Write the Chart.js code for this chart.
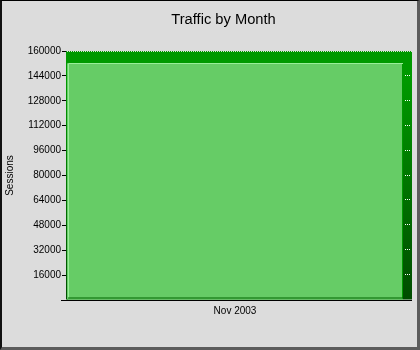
<!DOCTYPE html>
<html>
<head>
<meta charset="utf-8">
<title>Traffic by Month</title>
<script src="https://cdn.jsdelivr.net/npm/chart.js@4"></script>
<style>
  html, body { margin: 0; padding: 0; background: #dcdcdc; }
  #wrap { position: relative; width: 420px; height: 350px; background: #dcdcdc; }
  #trafficChart { position: absolute; left: 0; top: 0; }
  #frame {
    position: absolute; left: 0; top: 0; width: 420px; height: 350px;
    box-sizing: border-box; pointer-events: none;
    border-top: 1px solid #000; border-left: 2px solid #111;
    border-right: 3px solid #5c5c5c; border-bottom: 3px solid #5c5c5c;
  }
</style>
</head>
<body>
<div id="wrap">
  <canvas id="trafficChart" width="420" height="350"></canvas>
  <div id="frame"></div>
</div>
<script>
// === Data ===
const months = ["Nov 2003"];
const sessions = [152000];
const yMax = 160000;
const yStep = 16000;

// === Colours ===
const faceColor = "#66cc66";
const lightEdge = "#99ee99";
const backTop = "#009900";
const backBottom = "#004c00";

// === Title sits a bit right of the canvas centre ===
const titleShift = {
  id: "titleShift",
  afterLayout(chart) {
    const t = chart.titleBlock;
    if (!t) return;
    t.left = 44;
    t.width = t.right - t.left;
  }
};

// === 3D look: back block, side dots and face edges ===
const depthPlugin = {
  id: "depth",
  beforeDatasetsDraw(chart) {
    const bar = chart.getDatasetMeta(0).data[0];
    if (!bar) return;
    const { x, y, base, width } = bar.getProps(["x", "y", "base", "width"], true);
    const left = x - width / 2;
    const right = x + width / 2;
    const dx = 9, dy = 12.5;
    const c = chart.ctx;
    c.save();
    const grad = c.createLinearGradient(0, y - dy, 0, base);
    grad.addColorStop(0, backTop);
    grad.addColorStop(0.12, backTop);
    grad.addColorStop(1, backBottom);
    c.fillStyle = grad;
    c.fillRect(left - 1, y - dy, width + dx + 1, base - (y - dy));

    // dotted top edge
    c.strokeStyle = "#dcdcdc";
    c.lineWidth = 1;
    c.setLineDash([1, 1]);
    c.beginPath();
    c.moveTo(left, Math.round(y - dy) + 0.5);
    c.lineTo(right + dx, Math.round(y - dy) + 0.5);
    c.stroke();

    // grid dots on the side face
    c.strokeStyle = "#ffffff";
    const yScale = chart.scales.y;
    yScale.ticks.forEach(t => {
      if (t.value <= 0 || t.value >= yMax) return;
      const py = Math.round(yScale.getPixelForValue(t.value)) - 0.5;
      c.beginPath();
      c.moveTo(right + 2, py);
      c.lineTo(right + dx - 1, py);
      c.stroke();
    });
    c.restore();
  },
  afterDatasetsDraw(chart) {
    const bar = chart.getDatasetMeta(0).data[0];
    if (!bar) return;
    const { x, y, base, width } = bar.getProps(["x", "y", "base", "width"], true);
    const left = x - width / 2;
    const right = x + width / 2;
    const dx = 9;
    const c = chart.ctx;
    c.save();
    c.lineWidth = 1;
    // light top and left edges
    c.strokeStyle = lightEdge;
    c.beginPath();
    c.moveTo(left + 1.5, base - 1);
    c.lineTo(left + 1.5, Math.round(y) + 0.5);
    c.lineTo(right, Math.round(y) + 0.5);
    c.stroke();
    // darker right and bottom edges
    c.strokeStyle = "#009900";
    c.beginPath();
    c.moveTo(right - 0.5, Math.round(y) + 1);
    c.lineTo(right - 0.5, base - 1);
    c.stroke();
    c.strokeStyle = "#006600";
    c.beginPath();
    c.moveTo(left + 1, base - 1.5);
    c.lineTo(right, base - 1.5);
    c.stroke();
    // base line under the block
    c.strokeStyle = "#000000";
    c.beginPath();
    c.moveTo(left - 6, Math.round(base) + 0.5);
    c.lineTo(right + dx, Math.round(base) + 0.5);
    c.stroke();
    c.restore();
  }
};

// === Chart ===
const ctx = document.getElementById("trafficChart").getContext("2d");
const chart = new Chart(ctx, {
  type: "bar",
  data: {
    labels: months,
    datasets: [{
      label: "Sessions",
      data: sessions,
      backgroundColor: faceColor,
      borderWidth: 0,
      barPercentage: 1,
      categoryPercentage: 1
    }]
  },
  options: {
    responsive: false,
    animation: false,
    layout: { padding: { left: 4, right: 17, top: 0, bottom: 0 } },
    plugins: {
      legend: { display: false },
      tooltip: { enabled: false },
      title: {
        display: true,
        text: "Traffic by Month",
        color: "#000",
        font: { family: "Liberation Sans", size: 14.7, weight: "normal" },
        padding: { top: 11, bottom: 22.4 }
      }
    },
    scales: {
      x: {
        grid: { display: false, drawTicks: false },
        border: { display: false },
        ticks: {
          color: "#000",
          padding: 5,
          font: { family: "Liberation Sans", size: 10 }
        },
        afterFit: s => { s.height = 50; }
      },
      y: {
        min: 0,
        max: yMax,
        grid: { drawOnChartArea: false, tickLength: 5, tickColor: "#000" },
        border: { display: true, color: "#004400" },
        ticks: {
          stepSize: yStep,
          color: "#000",
          padding: 1,
          font: { family: "Liberation Sans", size: 10 },
          callback: v => (v === 0 ? "" : String(v))
        },
        title: {
          display: true,
          text: "Sessions",
          color: "#000",
          padding: 0,
          font: { family: "Liberation Sans", size: 10 }
        },
        afterFit: s => { s.width = 63; }
      }
    }
  },
  plugins: [titleShift, depthPlugin]
});
</script>
</body>
</html>
